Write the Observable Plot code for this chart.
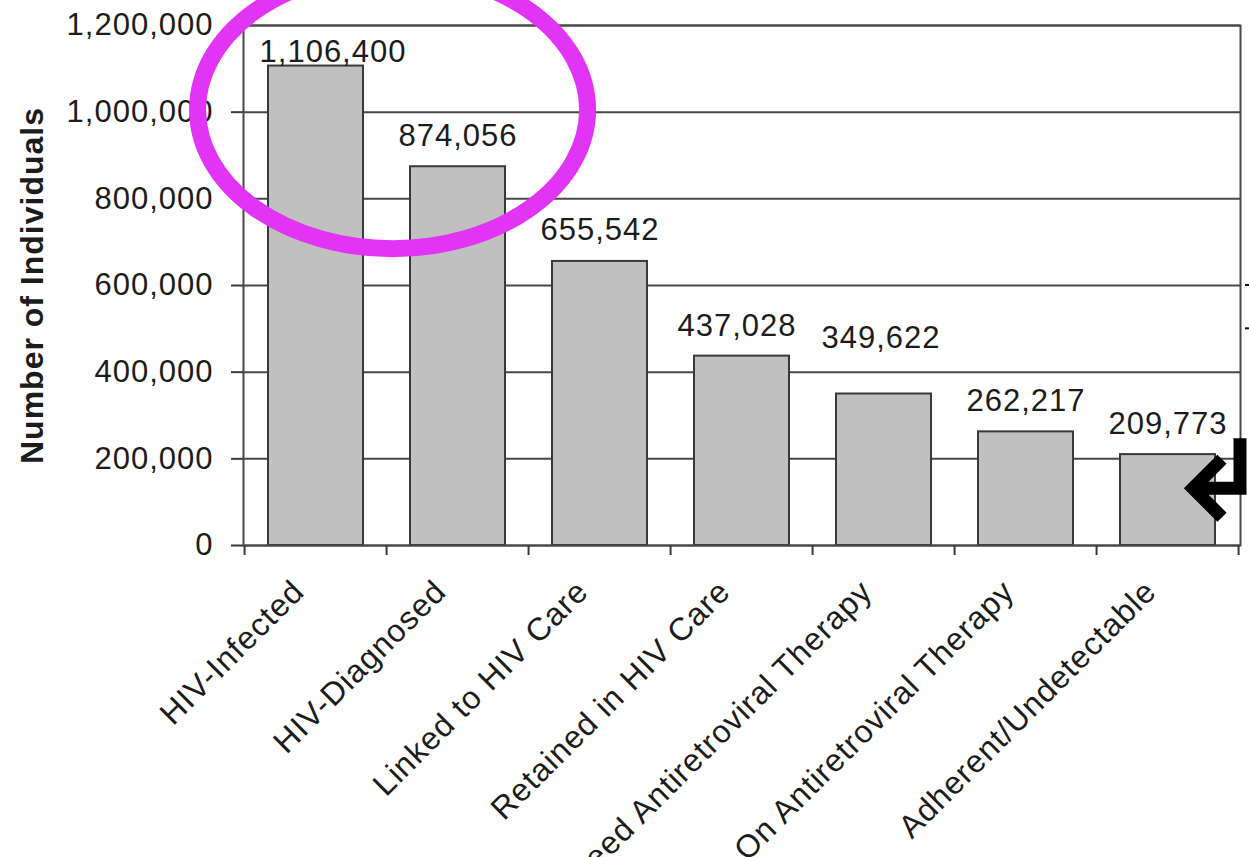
<!DOCTYPE html>
<html>
<head>
<meta charset="utf-8">
<script src="https://cdn.jsdelivr.net/npm/d3@7"></script>
<script src="https://cdn.jsdelivr.net/npm/@observablehq/plot@0.6"></script>
<style>
  html, body { margin: 0; padding: 0; background: #fff; overflow: hidden; }
  #chart svg { display: block; }
</style>
</head>
<body>
<div id="chart"></div>
<script>
// ---- data ----
const categories = [
  "HIV-Infected",
  "HIV-Diagnosed",
  "Linked to HIV Care",
  "Retained in HIV Care",
  "Need Antiretroviral Therapy",
  "On Antiretroviral Therapy",
  "Adherent/Undetectable"
];
const values = [1106400, 874056, 655542, 437028, 349622, 262217, 209773];
const yTicks = [0, 200000, 400000, 600000, 800000, 1000000, 1200000];
const yTitle = "Number of Individuals";

// ---- table ----
const data = categories.map((c, i) => ({cat: c, value: values[i], i}));

const PAD = 0.33;
const ink = "#1c1c1c";
const fmt = d3.format(",");

function boundaryTicks(index, scales, vals, dims) {
  const x = scales.x, y = scales.y;
  const step = x(categories[1]) - x(categories[0]);
  const bw = step * (1 - PAD);
  const xs = categories.map(c => x(c) - step * PAD / 2);
  xs.push(x(categories[categories.length - 1]) + bw + step * PAD / 2);
  const y0 = y(0);
  const g = d3.create("svg:g").attr("stroke", "#3a3a3a").attr("stroke-width", 2);
  for (const v of xs) {
    g.append("line").attr("x1", v).attr("x2", v).attr("y1", y0).attr("y2", y0 + 10);
  }
  return g.node();
}

function annotations(index, scales, vals, dims) {
  const x = scales.x, y = scales.y;
  const step = x(categories[1]) - x(categories[0]);
  const right = dims.width - dims.marginRight;
  const g = d3.create("svg:g");
  // magenta ellipse around the first two bars
  g.append("ellipse")
    .attr("cx", x(categories[1]) - step * PAD / 2 + 6)
    .attr("cy", y(1000000) - 2)
    .attr("rx", 195)
    .attr("ry", 139)
    .attr("fill", "none")
    .attr("stroke", "#e134f4")
    .attr("stroke-width", 17);
  // black return arrow at the right
  const ay = y(131000);
  g.append("path")
    .attr("d", `M${right},${ay - 50}V${ay}H${right - 46}M${right - 18},${ay - 29}L${right - 47},${ay}L${right - 18},${ay + 29}`)
    .attr("fill", "none")
    .attr("stroke", "#000")
    .attr("stroke-width", 13)
    .attr("stroke-linejoin", "miter")
    .attr("stroke-linecap", "butt");
  // tiny cut-off marks at the right edge
  for (const v of [600000, 500000]) {
    g.append("line")
      .attr("x1", dims.width - 4).attr("x2", dims.width)
      .attr("y1", y(v)).attr("y2", y(v))
      .attr("stroke", "#111").attr("stroke-width", 2);
  }
  return g.node();
}

const chart = Plot.plot({
  width: 1249,
  height: 857,
  marginLeft: 243,
  marginRight: 9,
  marginTop: 25,
  marginBottom: 312,
  style: {
    fontFamily: "'Liberation Sans', Arial, Helvetica, sans-serif",
    letterSpacing: "1px",
    color: ink,
    background: "#fff",
    overflow: "visible"
  },
  x: {type: "band", domain: categories, paddingInner: PAD, paddingOuter: PAD / 2, axis: null},
  y: {domain: [0, 1200000], label: null},
  marks: [
    Plot.gridY(yTicks, {stroke: "#484848", strokeOpacity: 1, strokeWidth: 2}),
    Plot.barY(data, {x: "cat", y: "value", fill: "#c0c0c0", stroke: "#3a3a3a", strokeWidth: 2}),
    Plot.frame({stroke: "#484848", strokeWidth: 2}),
    Plot.axisY(yTicks, {
      tickSize: 12, tickPadding: 18, tickFormat: fmt,
      fontSize: 31, fill: ink, stroke: "#3a3a3a", strokeWidth: 2, label: null
    }),
    boundaryTicks,
    // value labels
    Plot.text(data, {
      filter: d => d.i !== 0 && d.i !== 3 && d.i !== 4,
      x: "cat", y: "value", text: d => fmt(d.value),
      lineAnchor: "bottom", dy: -21, fontSize: 31, fill: ink
    }),
    Plot.text(data, {
      filter: d => d.i === 0,
      x: "cat", y: "value", text: d => fmt(d.value),
      lineAnchor: "bottom", dx: 17, dy: -4, fontSize: 31, fill: ink
    }),
    Plot.text(data, {
      filter: d => d.i === 3,
      x: "cat", y: "value", text: d => fmt(d.value),
      lineAnchor: "bottom", dx: -5, dy: -20, fontSize: 31, fill: ink
    }),
    Plot.text(data, {
      filter: d => d.i === 4,
      x: "cat", y: "value", text: d => fmt(d.value),
      lineAnchor: "bottom", dx: -3, dy: -46, fontSize: 31, fill: ink
    }),
    // category labels
    Plot.text(data, {
      x: "cat", text: "cat", frameAnchor: "bottom",
      rotate: -45, textAnchor: "end", lineAnchor: "bottom",
      dx: -10, dy: 48, fontSize: 32, fill: ink
    }),
    // y title
    Plot.text([yTitle], {
      text: d => d, frameAnchor: "left", rotate: -90,
      textAnchor: "middle", lineAnchor: "bottom",
      dx: -201, fontSize: 32, fontWeight: "bold", fill: ink
    }),
    annotations
  ]
});

document.getElementById("chart").appendChild(chart);
</script>
</body>
</html>
